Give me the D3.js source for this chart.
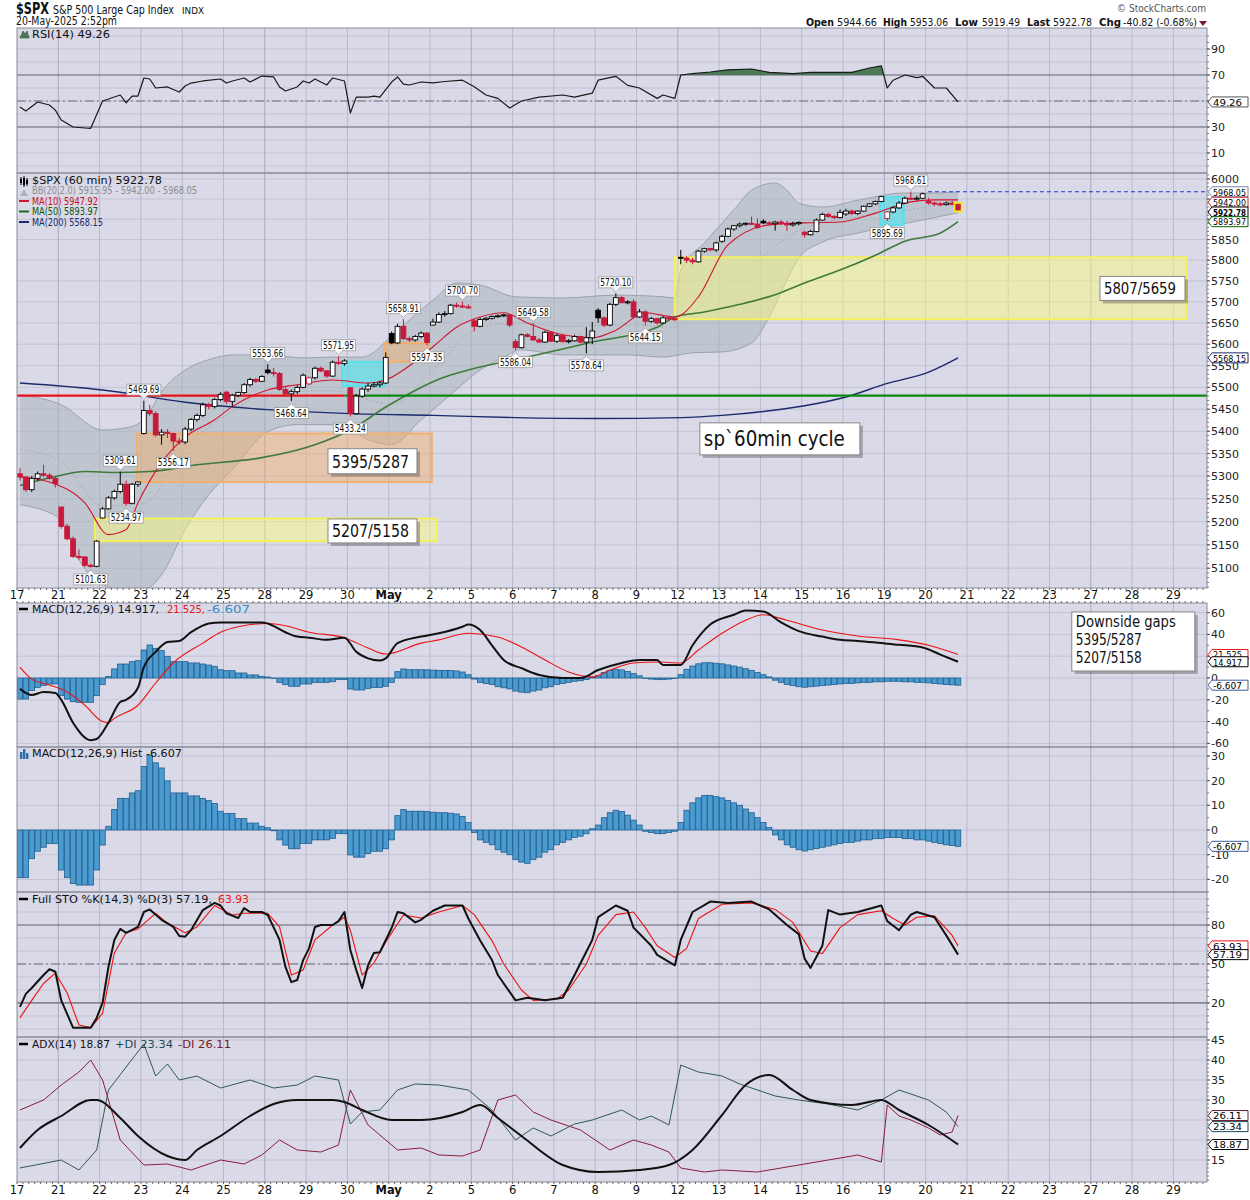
<!DOCTYPE html>
<html><head><meta charset="utf-8">
<script src="https://cdn.jsdelivr.net/npm/d3@7"></script>
<style>body{margin:0;background:#fff;} svg{display:block;} text{font-family:"DejaVu Sans",Verdana,sans-serif;}</style>
</head><body><svg id="c" width="1250" height="1200"></svg>
<script>
// ---------------- DATA ----------------
const dayLabels = ["17","21","22","23","24","25","28","29","30","May","2","5","6","7","8","9","12","13","14","15","16","19","20","21","22","23","27","28","29"];
// hourly candles [open, high, low, close]
const ohlc = [
// Apr 17
[5305,5318,5290,5298],[5298,5300,5265,5270],[5270,5300,5265,5295],[5295,5310,5290,5305],[5305,5325,5298,5302],[5302,5306,5292,5295],[5295,5298,5275,5283],
// Apr 21
[5232,5232,5185,5190],[5190,5195,5160,5163],[5163,5168,5122,5125],[5125,5140,5118,5124],[5124,5126,5103,5106],[5106,5110,5101.63,5104],[5104,5160,5102,5158],
// Apr 22
[5208,5232,5207,5228],[5228,5256,5226,5252],[5252,5270,5248,5266],[5266,5309.61,5262,5282],[5282,5290,5234.97,5240],[5240,5285,5238,5282],[5282,5288,5276,5287],
// Apr 23
[5395,5469.69,5393,5447],[5447,5460,5435,5440],[5440,5445,5388,5392],[5392,5405,5370,5398],[5398,5405,5385,5395],[5395,5397,5356.17,5378],[5378,5385,5370,5376],
// Apr 24
[5376,5410,5371,5405],[5405,5430,5400,5427],[5427,5440,5422,5436],[5436,5465,5432,5460],[5460,5465,5450,5456],[5456,5476,5452,5472],[5472,5489,5468,5484],
// Apr 25
[5489,5492,5462,5468],[5468,5485,5456,5482],[5482,5490,5478,5488],[5488,5510,5485,5506],[5506,5522,5502,5518],[5518,5522,5510,5514],[5514,5528,5512,5525],
// Apr 28
[5540,5553.66,5530,5534],[5534,5545,5525,5532],[5532,5535,5492,5495],[5495,5500,5480,5485],[5485,5495,5468.64,5490],[5490,5505,5485,5500],[5500,5532,5498,5528],
// Apr 29
[5508,5525,5505,5522],[5522,5548,5518,5544],[5544,5548,5535,5538],[5538,5540,5522,5526],[5526,5562,5524,5558],[5558,5571.95,5552,5555],[5555,5565,5550,5561],
// Apr 30
[5499,5500,5433.24,5440],[5440,5485,5438,5480],[5480,5500,5476,5496],[5496,5510,5490,5503],[5503,5512,5500,5506],[5506,5515,5500,5510],[5510,5581,5508,5569],
// May 1
[5625,5630,5600,5603],[5603,5648,5600,5642],[5642,5658.91,5610,5613],[5613,5618,5605,5610],[5610,5622,5606,5618],[5618,5630,5614,5626],[5626,5628,5597.35,5604],
// May 2
[5645,5660,5644,5652],[5652,5675,5650,5670],[5670,5678,5665,5672],[5672,5695,5670,5692],[5692,5698,5686,5690],[5690,5700.70,5685,5688],[5688,5694,5683,5686],
// May 5
[5655,5660,5630,5642],[5642,5662,5640,5658],[5658,5664,5655,5661],[5661,5668,5658,5665],[5665,5670,5662,5667],[5667,5672,5664,5669],[5669,5671,5640,5645],
// May 6
[5606,5612,5586.04,5592],[5592,5625,5590,5622],[5622,5626,5616,5618],[5618,5649.58,5608,5610],[5610,5614,5603,5605],[5605,5632,5603,5628],[5628,5630,5605,5607],
// May 7
[5607,5625,5603,5620],[5620,5624,5604,5606],[5606,5612,5602,5608],[5608,5622,5606,5618],[5618,5620,5602,5605],[5605,5640,5578.64,5615],[5615,5652,5600,5631],
// May 8
[5680,5685,5650,5662],[5662,5665,5640,5645],[5645,5698,5642,5694],[5694,5720.10,5690,5710],[5710,5714,5696,5698],[5698,5704,5694,5700],[5700,5706,5660,5664],
// May 9
[5664,5683,5662,5676],[5676,5680,5644.15,5654],[5654,5664,5650,5660],[5660,5662,5646,5650],[5650,5666,5648,5662],[5662,5665,5656,5660],[5660,5662,5654,5658],
// May 12
[5807,5825,5790,5805],[5805,5810,5793,5800],[5800,5806,5790,5796],[5796,5825,5794,5822],[5822,5830,5818,5828],[5828,5830,5822,5825],[5825,5845,5820,5842],
// May 13
[5846,5862,5842,5858],[5858,5880,5856,5876],[5876,5886,5872,5884],[5884,5892,5880,5888],[5888,5892,5884,5890],[5890,5906.63,5886,5888],[5888,5902,5876,5880],
// May 14
[5895,5900,5888,5891],[5891,5895,5885,5889],[5889,5896,5872,5893],[5893,5898,5886,5890],[5890,5896,5871,5886],[5886,5894,5882,5889],[5889,5895,5885,5892],
// May 15
[5868,5872,5855,5862],[5862,5874,5860,5870],[5870,5902,5868,5898],[5898,5916,5896,5912],[5912,5916,5904,5907],[5907,5910,5900,5904],[5904,5924,5902,5917],
// May 16
[5913,5926,5908,5920],[5920,5924,5910,5914],[5914,5922,5910,5920],[5920,5934,5918,5932],[5932,5940,5930,5938],[5938,5946,5935,5944],[5944,5958,5942,5956],
// May 19
[5902,5920,5895.69,5918],[5918,5932,5915,5928],[5928,5945,5925,5940],[5940,5956,5938,5952],[5952,5968.61,5948,5950],[5950,5958,5946,5952],[5952,5966,5950,5963],
// May 20
[5944.66,5953.06,5936,5940],[5940,5944,5933,5938],[5938,5942,5932,5936],[5936,5944,5934,5940],[5940,5946,5934,5937],[5937,5940,5919.49,5922.78]
];
// overlays: [bar, value]
const ma10 = [[0,5298],[5,5287],[11,5241],[15,5172],[18,5183],[20,5241],[24,5330],[28,5387],[33,5426],[36,5456],[42,5494],[47,5506],[53,5517],[59,5510],[62,5517],[65,5540],[70,5594],[74,5640],[78,5664],[82,5674],[86,5650],[92,5622],[97,5615],[101,5633],[106,5674],[111,5664],[115,5712],[120,5837],[127,5886],[133,5891],[139,5893],[145,5915],[151,5943],[155,5948],[159,5947.92]];
const ma50 = [[0,5279],[6,5299],[11,5310],[16,5308],[22,5310],[30,5325],[41,5341],[50,5370],[56,5403],[62,5455],[72,5524],[76,5540],[86,5570],[97,5605],[108,5640],[111,5664],[116,5676],[122,5694],[128,5717],[133,5745],[139,5776],[145,5812],[150,5846],[156,5866],[159,5893.97]];
const ma200 = [[0,5510],[14,5494],[28,5466],[42,5449],[56,5440],[70,5436],[84,5431],[98,5429],[112,5431],[119,5436],[126,5445],[133,5458],[140,5478],[147,5509],[154,5535],[159,5568.15]];
const bbUpper = [[0,5483],[7,5460],[14,5403],[18,5408],[21,5426],[24,5490],[28,5540],[32,5564],[36,5575],[42,5575],[48,5568],[53,5570],[58,5570],[64,5633],[70,5704],[74,5745],[78,5740],[84,5712],[92,5709],[101,5716],[109,5712],[111,5709],[112,5776],[116,5842],[121,5923],[124,5972],[128,5990],[130,5972],[132,5940],[136,5930],[142,5947],[150,5965],[156,5965],[159,5968.05]];
const bbLower = [[0,5237],[7,5205],[10,5118],[14,5065],[18,5054],[21,5054],[24,5086],[28,5183],[32,5259],[36,5314],[42,5399],[47,5415],[53,5415],[56,5403],[59,5381],[63,5370],[68,5426],[73,5483],[78,5540],[82,5570],[85,5587],[92,5575],[103,5575],[109,5570],[114,5580],[119,5582],[124,5603],[127,5664],[130,5752],[132,5805],[136,5844],[142,5866],[147,5881],[153,5898],[159,5915.95]];
const bbMid = [[0,5360],[7,5333],[14,5234],[21,5240],[28,5362],[36,5445],[42,5487],[53,5492],[63,5461],[70,5540],[78,5640],[85,5650],[92,5642],[103,5645],[111,5640],[116,5700],[124,5787],[132,5872],[142,5906],[150,5922],[159,5942.00]];
const gapZones = [
  {kind:"orange", b0:20.3, b1:70.3, hi:5395, lo:5287},
  {kind:"yellow", b0:13.2, b1:71.2, hi:5207, lo:5158},
  {kind:"yellow", b0:111.5, b1:198.3, hi:5807, lo:5659},
  {kind:"cyan", b0:55.1, b1:62.4, hi:5559, lo:5503},
  {kind:"orange", b0:62.2, b1:69.7, hi:5603, lo:5559},
  {kind:"cyan", b0:146.3, b1:150.3, hi:5955, lo:5886}
];
const levelRed = {b0:0, b1:55.5, v:5481};
const levelGreen = {b0:55.5, v:5481};
const levelBB = {b0:154.4, v:5968.05};
const callouts = [[12,5101.63,"below"],[18,5234.97,"below"],[17,5309.61,"above"],[26,5356.17,"below"],[21,5469.69,"above"],[42,5553.66,"above"],[46,5468.64,"below"],[54,5571.95,"above"],[56,5433.24,"below"],[69,5597.35,"below"],[65,5658.91,"above"],[75,5700.70,"above"],[87,5649.58,"above"],[84,5586.04,"below"],[96,5578.64,"below"],[101,5720.10,"above"],[106,5644.15,"below"],[151,5968.61,"above"],[147,5895.69,"below"]];
const rsi = [[0,45.4],[1,42.3],[3,49.2],[5,46.9],[6,43],[7,35.4],[9,30],[11,29.2],[12,29],[14,50],[17,54.6],[18,48.5],[19,53.8],[20,53.8],[21,67.7],[22,66.9],[23,60],[25,60.8],[27,56.9],[28,61.5],[29,63.8],[31,65.4],[34,66.9],[35,63.8],[36,65.4],[38,67.7],[39,64.6],[41,69.2],[43,68.5],[44,60.8],[45,57.7],[47,60.8],[48,65.4],[49,63.8],[50,66.9],[52,62.3],[53,67.7],[55,65.4],[56,40.8],[57,53],[59,53],[60,53.8],[61,53],[63,64.6],[64,68.5],[65,63],[66,62.3],[68,64.6],[70,64],[72,65],[75,66],[77,61],[79,54.6],[81,52],[83,44.6],[85,50],[88,53],[92,54.6],[94,53],[97,56],[98,66],[101,69],[103,62],[105,60],[108,52],[109,54.6],[111,52],[112,70],[114,71],[117,72.3],[120,74],[124,74.6],[127,72],[131,71],[134,72],[137,72],[141,72],[144,75.4],[146,77],[147,60],[148,66],[150,70],[152,68],[153,69],[155,60],[157,60],[159,49.26]];
const macd = [[0,-10],[2,-15.6],[4,-12.8],[6,-13.8],[7,-20],[9,-41],[12,-57],[13,-56],[15,-41],[17,-22],[18,-20],[20,-9],[21,10],[23,24],[25,33],[27,34],[29,42],[32,50],[34,51],[38,51],[41,51],[42,50],[45,42],[47,38],[49,37],[52,35],[55,37],[57,24],[59,18],[61,16],[62,18],[64,32],[68,38],[71,41],[75,47],[76,49],[78,44],[80,30],[82,16.5],[85,9],[88,2.8],[92,0],[95,0],[98,7.3],[102,13.8],[105,16.5],[108,16.5],[109,11.9],[112,11.9],[114,30],[117,49],[121,58],[123,62],[126,61],[129,51],[132,43],[136,38],[139,35],[142,34],[146,32],[149,30.5],[153,28],[156,21.5],[159,14.917]];
const macdSignal = [[0,10],[2,-1],[5,-6.4],[8,-12.8],[11,-25],[14,-40],[15,-41],[16,-37],[20,-25],[23,-4.6],[26,14],[31,32],[34,42],[37,47],[42,50],[45,48],[49,42],[55,37],[59,27.5],[62,22],[68,32],[71,35],[76,41],[81,37.6],[85,28.4],[89,16.5],[93,5.5],[97,1],[100,7.3],[104,13.8],[108,14.7],[112,13.8],[115,25.7],[119,41],[123,53],[126,58],[130,53],[136,44],[142,38.5],[149,35],[154,30],[159,21.525]];
const macdHist = [-19.3,-19.3,-11.6,-8.6,-7,-5.5,-5.5,-16.2,-19.3,-21.7,-22.3,-22.3,-22.3,-16.2,-6.1,1.5,8.3,12.8,12.8,15,15.9,25.7,30.3,27.2,25.1,19.9,15,15,15,13.8,13.8,12.8,11.9,10.7,7.6,6.7,6.7,4.6,4.6,2.8,2.8,1.5,0.9,-0.3,-4,-6.1,-7.6,-7.6,-5.5,-5.5,-4,-4,-4,-3.4,-1.5,-1.5,-10.1,-11,-11,-9.5,-8.6,-8.6,-7.6,-4,5.8,8.3,7.6,7.6,
7.6,7.5,7.2,7,7,6.8,6.5,5.5,3,-1,-4,-5,-6,-8,-9,-10,-12,-13,-13.5,-12,-11,-9,-8,-6,-5,-4,-3,-2.5,-1.5,0.5,2,5,7,8,7.5,6,4,2,-0.5,-1,-1.5,-1.5,-1,-0.5,3,8,11,13,14,14,13.5,13,12,11,10,8.5,7,5,3,1,-2,-4,-6,-7,-8,-8.5,-8,-7.5,-7,-6.5,-6,-5.5,-5,-5,-4.5,-4,-4,-3.5,-3.5,-3,-3,-3,-3.5,-3.5,-4,-4,-4.5,-5,-5.5,-6,-6.3,-6.607];
const stoK = [[0,17],[1,27],[2,31.5],[4,41.5],[5,46],[6,44],[7,22],[9,1],[12,1],[13,8.5],[14,20],[15,47.7],[16,68.5],[17,77],[18,74],[20,78.5],[21,90],[22,92],[24,84],[26,78.5],[27,71.5],[28,71],[29,76],[31,91.5],[33,97],[34,95],[35,89],[37,85.4],[38,93],[39,90],[41,90],[42,87.7],[44,68.5],[45,47.7],[46,36],[47,37.7],[48,53],[49,62],[50,78.5],[51,80],[53,80],[54,83],[55,90],[56,60.8],[57,45.4],[58,31.5],[59,49],[60,58.5],[61,59],[63,77.7],[64,90],[65,89],[67,82],[68,84],[70,91],[72,95],[75,95],[76,85],[78,68],[80,53],[81,41.5],[84,22],[86,24],[89,22],[92,24],[94,41.5],[97,68.5],[98,86],[101,95],[103,91],[104,78],[107,64],[108,57],[111,49],[112,68.5],[114,90],[117,98],[120,97],[124,98],[127,92],[130,80],[132,73],[133,54],[134,47],[136,64],[137,91.5],[139,88],[142,90],[146,95],[147,83],[149,76],[151,88],[152,90],[155,86],[157,72],[159,57.19]];
const stoD = [[0,8.5],[2,22],[4,35],[6,43],[8,27.7],[10,3],[12,1],[14,12],[16,58.5],[18,74],[20,77],[23,89],[25,81.5],[28,74],[30,78.5],[33,95],[36,87.7],[38,89],[42,89],[44,78.5],[46,41.5],[48,45.4],[50,68.5],[53,80],[55,86],[56,76],[58,41.5],[60,50.8],[62,67],[65,87.7],[68,85.4],[71,90],[75,95],[77,88],[80,68],[82,50],[85,30],[87,22],[91,23],[93,30],[96,50],[98,72],[101,88],[104,90],[106,78],[108,64],[111,55],[113,62],[115,85],[119,96],[124,97],[128,92],[131,82],[134,60],[136,58],[139,78],[142,88],[146,91],[148,85],[150,80],[152,86],[155,87],[158,72],[159,63.93]];
const adx = [[0,18],[3,22.5],[7,26],[12,30],[13,30],[17,25.5],[20,21],[25,16],[28,15],[30,17.5],[34,21],[39,26],[43,29],[47,30],[53,30],[55,29.5],[58,27.5],[63,25],[68,25],[75,27],[78,28.75],[81,25.5],[85,21],[92,13.75],[98,12],[105,12.5],[110,13.75],[114,17.5],[119,26.25],[123,33.75],[127,36.25],[131,32.5],[134,30],[141,28.75],[146,30],[149,27.5],[154,23.75],[159,18.87]];
const plusDI = [[0,13],[7,15],[10,12.5],[13,17.5],[14,25],[15,32.5],[21,44],[23,36],[25,39],[27,35],[30,36],[34,33],[39,35],[43,33],[47,33.75],[50,36],[54,35],[56,24],[58,27],[61,27.5],[64,32.5],[67,34],[71,33.75],[76,32.5],[80,27.5],[84,20],[87,23],[90,21],[94,24],[97,25],[102,27.5],[105,25],[107,26],[110,23.75],[112,38.75],[115,37],[119,36],[122,34],[125,32.5],[128,31],[132,30],[137,29],[142,27.5],[146,30],[149,32.5],[152,31],[154,30],[157,27],[159,23.34]];
const minusDI = [[0,27.5],[4,30],[7,33.75],[10,37],[12,40],[14,35],[17,20],[21,13.75],[25,14],[29,12.5],[34,15],[38,14],[41,16.25],[44,20],[47,17.5],[51,17],[54,18.75],[56,32.5],[59,23.75],[64,17.5],[68,18],[71,16.25],[75,16],[78,17.5],[81,30],[84,31.25],[87,27],[90,25],[95,22.5],[100,17.5],[104,20],[107,18.75],[110,17],[112,13],[116,12],[119,12.5],[125,12],[129,13],[132,13.75],[137,15],[142,16.25],[146,14.5],[147,28.75],[149,26],[151,25],[154,23],[156,21.25],[158,22],[159,26.11]];
const priceTicks = d3.range(5100, 6001, 50);
const rsiTicks = [90,70,50,30,10];
const macdTicks = [60,40,20,0,-20,-40,-60];
const histTicks = [30,20,10,0,-10,-20];
const stoTicks = [80,50,20];
const adxTicks = [45,40,35,30,25,20,15];

// ---------------- LAYOUT ----------------
const L = 17, R = 1207, BARW = 41.3/7;
const x = d3.scaleLinear().domain([0, (R-L)/BARW]).range([L, R]);
const bx = b => x(b + 0.5);
const P = {rsi:[28,173], price:[173,588], macd:[603,747], hist:[747,892], sto:[892,1037], adx:[1037,1182]};
const yRsi = d3.scaleLinear().domain([-5.4,106.15]).range([173,28]);
const yP = d3.scaleLog().domain([5058,6015]).range([588,173]);
const yMacd = d3.scaleLinear().domain([-63.3,68.8]).range([747,603]);
const yHist = d3.scaleLinear().domain([-25.1,33.6]).range([892,747]);
const ySto = d3.scaleLinear().domain([-6.2,105.4]).range([1037,892]);
const yAdx = d3.scaleLinear().domain([9.5,45.75]).range([1182,1037]);

const svg = d3.select("#c");
const defs = svg.append("defs");
Object.entries(P).forEach(([k,[t,b]]) => {
  defs.append("clipPath").attr("id","clip-"+k).append("rect").attr("x",L).attr("y",t).attr("width",R-L).attr("height",b-t);
});
const BG = "#d9d9e7", GRID = "#c3c3d4", VGRID = "#b9b9cb", AX = "#222";
const ARIAL = "'Liberation Sans', Arial, sans-serif";

Object.values(P).forEach(([t,b]) => svg.append("rect").attr("x",L).attr("y",t).attr("width",R-L).attr("height",b-t).attr("fill",BG));

function hgrid(ys, vals, color, dash, w){
  vals.forEach(v => svg.append("line").attr("x1",L).attr("x2",R).attr("y1",ys(v)).attr("y2",ys(v))
    .attr("stroke",color).attr("stroke-width",w||1).attr("stroke-dasharray",dash||null));
}
hgrid(yRsi, d3.range(0,101,10), GRID);
hgrid(yP, priceTicks, GRID);
hgrid(yMacd, [60,40,20,0,-20,-40,-60], GRID);
hgrid(yHist, [30,20,10,0,-10,-20], GRID);
hgrid(ySto, d3.range(0,101,10), GRID);
hgrid(yAdx, [45,40,35,30,25,20,15], GRID);
Object.values(P).forEach(([t,b]) => {
  dayLabels.forEach((d,i) => {
    const xx = x(i*7);
    if (xx <= L+0.5 || xx >= R) return;
    const monday = [1,6,11,16,21,26].includes(i);
    svg.append("line").attr("x1",xx).attr("x2",xx).attr("y1",t).attr("y2",b).attr("stroke", monday ? "#a9a9bd" : VGRID).attr("stroke-width",1);
  });
});
hgrid(yRsi, [70,30], "#6d6d78", null, 1.2);
hgrid(yRsi, [50], "#6d6d78", "9,3,2,3", 1);
hgrid(ySto, [80,20], "#6d6d78", null, 1.2);
hgrid(ySto, [50], "#6d6d78", "9,3,2,3", 1);

const line = (ys, curve) => d3.line().x(d=>bx(d[0])).y(d=>ys(d[1])).curve(curve || d3.curveLinear);
function path(panel, data, gen, stroke, w, extra){
  const p = svg.append("path").attr("clip-path","url(#clip-"+panel+")").datum(data).attr("d",gen)
    .attr("fill","none").attr("stroke",stroke).attr("stroke-width",w).attr("stroke-linejoin","round");
  if (extra) extra(p);
  return p;
}

// RSI
defs.append("clipPath").attr("id","clip-rsi70").append("rect").attr("x",L).attr("y",28).attr("width",R-L).attr("height",yRsi(70)-28);
svg.append("path").attr("clip-path","url(#clip-rsi70)").datum(rsi)
  .attr("d", d3.area().x(d=>bx(d[0])).y0(yRsi(70)).y1(d=>yRsi(d[1]))).attr("fill","#4c7a56");
path("rsi", rsi, line(yRsi), "#1a1a1a", 1.2);

// PRICE
{
  const up = d3.line().x(d=>bx(d[0])).y(d=>yP(d[1])).curve(d3.curveMonotoneX)(bbUpper);
  const lo = d3.line().x(d=>bx(d[0])).y(d=>yP(d[1])).curve(d3.curveMonotoneX)(bbLower.slice().reverse());
  svg.append("path").attr("clip-path","url(#clip-price)").attr("d", up + "L" + lo.slice(1) + "Z")
    .attr("fill","rgba(170,182,190,0.55)").attr("stroke","none");
}
path("price", bbUpper, line(yP, d3.curveMonotoneX), "#9aa3ad", 1);
path("price", bbLower, line(yP, d3.curveMonotoneX), "#9aa3ad", 1);
path("price", bbMid, line(yP, d3.curveMonotoneX), "#a7adb6", 1, p=>p.attr("stroke-dasharray","2,2"));

const zoneStyle = {
  orange: {fill:"rgba(244,172,104,0.45)", stroke:"#f1b06c"},
  yellow: {fill:"rgba(255,255,120,0.45)", stroke:"#f4ef5c"},
  cyan: {fill:"rgba(80,232,242,0.6)", stroke:"#59e0ea"}
};
gapZones.forEach(z => {
  const s = zoneStyle[z.kind];
  svg.append("rect").attr("clip-path","url(#clip-price)")
    .attr("x", x(z.b0)).attr("width", x(z.b1)-x(z.b0))
    .attr("y", yP(z.hi)).attr("height", yP(z.lo)-yP(z.hi))
    .attr("fill", s.fill).attr("stroke", s.stroke).attr("stroke-width", 2);
});
path("price", ma200, line(yP, d3.curveMonotoneX), "#1b2a6b", 1.4);
path("price", ma50, line(yP, d3.curveMonotoneX), "#3f7a3a", 1.6);
path("price", ma10, line(yP, d3.curveMonotoneX), "#d2142f", 1.1);
svg.append("line").attr("x1",x(levelRed.b0)).attr("x2",x(levelRed.b1)).attr("y1",yP(levelRed.v)).attr("y2",yP(levelRed.v)).attr("stroke","#e8101a").attr("stroke-width",2.2);
svg.append("line").attr("x1",x(levelGreen.b0)).attr("x2",R).attr("y1",yP(levelGreen.v)).attr("y2",yP(levelGreen.v)).attr("stroke","#0a8a12").attr("stroke-width",2.2);
svg.append("line").attr("x1",x(levelBB.b0)).attr("x2",R).attr("y1",yP(levelBB.v)).attr("y2",yP(levelBB.v)).attr("stroke","#2233cc").attr("stroke-width",1.2).attr("stroke-dasharray","4,3");

const RED = "#c8193c";
const cg = svg.append("g").attr("clip-path","url(#clip-price)");
ohlc.forEach((d,i) => {
  const [o,h,l,c] = d;
  const prev = i > 0 ? ohlc[i-1][3] : o;
  const col = c < prev ? RED : "#000";
  const filled = c < o;
  const cx = bx(i);
  cg.append("line").attr("x1",cx).attr("x2",cx).attr("y1",yP(h)).attr("y2",yP(l)).attr("stroke",col).attr("stroke-width",1);
  const top = yP(Math.max(o,c)), bot = yP(Math.min(o,c));
  cg.append("rect").attr("x",cx-2.4).attr("width",4.8).attr("y",top).attr("height",Math.max(1,bot-top))
    .attr("fill", filled ? col : "#fff").attr("stroke",col).attr("stroke-width",0.9);
});
{
  const i = ohlc.length-1, [o,h,l,c] = ohlc[i];
  svg.append("rect").attr("x",bx(i)-3.6).attr("width",7.2).attr("y",yP(Math.max(o,c))-1.5).attr("height",yP(Math.min(o,c))-yP(Math.max(o,c))+3)
    .attr("fill","none").attr("stroke","#f5f000").attr("stroke-width",1.6);
}

callouts.forEach(([b,v,side]) => {
  const cx = bx(b);
  const py = yP(v);
  const t = v.toFixed(2);
  const w = 34, h = 11;
  const cy = side === "above" ? py - 11 : py + 12;
  const gg = svg.append("g");
  const tipY = side === "above" ? cy + h/2 + 4 : cy - h/2 - 4;
  const baseY = side === "above" ? cy + h/2 : cy - h/2;
  gg.append("path").attr("d",`M${cx-4},${baseY}L${cx},${tipY}L${cx+4},${baseY}Z`).attr("fill","#fff").attr("stroke","#999").attr("stroke-width",0.8);
  gg.append("rect").attr("x",cx-w/2).attr("y",cy-h/2).attr("width",w).attr("height",h).attr("fill","#fff").attr("stroke","#9a9a9a").attr("stroke-width",0.8);
  gg.append("rect").attr("x",cx-3.4).attr("y",baseY-0.8).attr("width",6.8).attr("height",1.6).attr("fill","#fff");
  gg.append("text").attr("x",cx).attr("y",cy+3.6).attr("text-anchor","middle").attr("font-family",ARIAL).attr("font-size",10)
    .attr("textLength",31).attr("lengthAdjust","spacingAndGlyphs").attr("fill","#111").text(t);
});

function noteBox(cx, cy, w, h, lines, fs, lh, tls){
  const gg = svg.append("g");
  gg.append("rect").attr("x",cx-w/2+3).attr("y",cy-h/2+3).attr("width",w).attr("height",h).attr("fill","rgba(60,60,60,0.35)");
  gg.append("rect").attr("x",cx-w/2).attr("y",cy-h/2).attr("width",w).attr("height",h).attr("fill","#fff").attr("stroke","#888").attr("stroke-width",1);
  lines.forEach((t,i) => gg.append("text").attr("x",cx-w/2+4).attr("y",cy-h/2 + (lines.length>1 ? 15 + i*lh : h/2 + fs*0.36))
    .attr("font-family",ARIAL).attr("font-size",fs).attr("fill","#111")
    .attr("textLength",tls[i]).attr("lengthAdjust","spacingAndGlyphs").text(t));
}
noteBox(bx(59.75), yP(5333), 89, 25, ["5395/5287"], 18, 0, [77]);
noteBox(bx(59.75), yP(5180), 89, 24, ["5207/5158"], 18, 0, [77]);
noteBox(bx(190.26), yP(5732), 85, 24, ["5807/5659"], 16, 0, [72]);
noteBox(bx(128.8), yP(5383), 160, 32, ["sp`60min cycle"], 21, 0, [141]);
noteBox(bx(188.7), yMacd(33.5), 123, 59, ["Downside gaps","5395/5287","5207/5158"], 16, 18, [100,66,66]);

const hw = BARW*0.92;
function histBars(ys, panel){
  const gg = svg.append("g").attr("clip-path","url(#clip-"+panel+")");
  macdHist.forEach((v,i) => {
    const y0 = ys(0), y1 = ys(v);
    gg.append("rect").attr("x",bx(i)-hw/2).attr("width",hw).attr("y",Math.min(y0,y1)).attr("height",Math.max(0.5,Math.abs(y1-y0)))
      .attr("fill","#4b9bd0").attr("stroke","#1f5f8f").attr("stroke-width",0.8);
  });
}
histBars(yMacd, "macd");
path("macd", macdSignal, line(yMacd, d3.curveMonotoneX), "#ee1111", 1.1);
path("macd", macd, line(yMacd, d3.curveMonotoneX), "#111", 2);
histBars(yHist, "hist");

path("sto", stoD, line(ySto), "#ee1111", 1.1);
path("sto", stoK, line(ySto), "#111", 2);

path("adx", minusDI, line(yAdx), "#8a1c3c", 1);
path("adx", plusDI, line(yAdx), "#2f5a4c", 1);
path("adx", adx, line(yAdx, d3.curveMonotoneX), "#111", 2);

Object.values(P).forEach(([t,b]) => svg.append("rect").attr("x",L).attr("y",t).attr("width",R-L).attr("height",b-t).attr("fill","none").attr("stroke","#8a8a98").attr("stroke-width",1));

// value tags (computed positions first, so tick labels hidden beneath them can be skipped)
const tags = [
  [yRsi(49.26), "49.26", "#555"],
  [yP(5968.05), "5968.05", "#7788aa"],
  [yP(5942.00), "5942.00", "#cc2222"],
  [yP(5922.78)+2, "5922.78", "#000", true],
  [yP(5893.97), "5893.97", "#006600"],
  [yP(5568.15), "5568.15", "#1b2a6b"],
  [yMacd(21.525), "21.525", "#ee1111"],
  [yMacd(14.917), "14.917", "#000"],
  [yMacd(-6.607), "-6.607", "#3a5fa0"],
  [yHist(-6.607), "-6.607", "#3a5fa0"],
  [ySto(63.93), "63.93", "#ee1111"],
  [ySto(57.19), "57.19", "#000"],
  [yAdx(26.11), "26.11", "#6b1a2a"],
  [yAdx(23.34), "23.34", "#1a4a5a"],
  [yAdx(18.87), "18.87", "#000"]
];
function rAxis(ys, vals, top, bot){
  vals.forEach(v => {
    const yy = ys(v);
    if (yy < top-1 || yy > bot+1) return;
    svg.append("line").attr("x1",R).attr("x2",R+3).attr("y1",yy).attr("y2",yy).attr("stroke","#555");
    if (tags.some(t => Math.abs(t[0]-yy) < 5.5)) return;
    svg.append("text").attr("x",R+4).attr("y",yy+4).attr("font-family",ARIAL).attr("font-size",11).attr("fill",AX).text(v);
  });
}
function minor(ys, vals){ vals.forEach(v => svg.append("line").attr("x1",R).attr("x2",R+2).attr("y1",ys(v)).attr("y2",ys(v)).attr("stroke","#777")); }
minor(yRsi, d3.range(0,101,5)); minor(yP, d3.range(5060,6011,10)); minor(yMacd, d3.range(-60,61,10));
minor(yHist, d3.range(-25,31,5)); minor(ySto, d3.range(0,101,5)); minor(yAdx, d3.range(10,46,1));
rAxis(yRsi, rsiTicks, 28, 173);
rAxis(yP, priceTicks, 173, 588);
rAxis(yMacd, macdTicks, 603, 747);
rAxis(yHist, histTicks, 747, 892);
rAxis(ySto, stoTicks, 892, 1037);
rAxis(yAdx, adxTicks, 1037, 1182);

tags.forEach(([yy, t, color, bold]) => {
  const g2 = svg.append("g");
  g2.append("path").attr("d",`M${R+1},${yy}L${R+5},${yy-5}L${R+41},${yy-5}L${R+41},${yy+5}L${R+5},${yy+5}Z`)
    .attr("fill","#fff").attr("stroke",color).attr("stroke-width",1);
  g2.append("text").attr("x",R+6).attr("y",yy+3.8).attr("font-family",ARIAL).attr("font-size",9.5)
    .attr("font-weight",bold?"bold":"normal").attr("textLength",t.length>6?33:29).attr("lengthAdjust","spacingAndGlyphs").attr("fill","#000").text(t);
});

function dateAxis(yTop, yText){
  for (let b = 0; b <= 201; b++) {
    svg.append("line").attr("x1",x(b)).attr("x2",x(b)).attr("y1",yTop).attr("y2",yTop+2).attr("stroke","#666");
  }
  dayLabels.forEach((d,i) => {
    svg.append("text").attr("x",x(i*7)).attr("y",yText).attr("text-anchor","middle").attr("font-family",ARIAL)
      .attr("font-size",11.5).attr("font-weight", d==="May" ? "bold":"normal").attr("fill","#111").text(d);
  });
}
dateAxis(588, 599);
for (let b = 0; b <= 201; b++) svg.append("line").attr("x1",x(b)).attr("x2",x(b)).attr("y1",601).attr("y2",603).attr("stroke","#666");
dateAxis(1182, 1194);

function txt(xx, yy, s, opts){
  const t = svg.append("text").attr("x",xx).attr("y",yy).attr("font-size",opts.fs||11).attr("fill",opts.fill||"#111").text(s);
  if (opts.tl) t.attr("textLength",opts.tl).attr("lengthAdjust","spacingAndGlyphs");
  if (opts.bold) t.attr("font-weight","bold");
  if (opts.family) t.attr("font-family",opts.family);
  return t;
}
txt(16, 14, "$SPX", {fs:16, bold:true, tl:33, family:ARIAL});
txt(53, 14, "S&P 500 Large Cap Index", {fs:11.5, tl:121, family:ARIAL});
txt(182, 14, "INDX", {fs:9.5, tl:22, family:ARIAL});
txt(16, 25, "20-May-2025 2:52pm", {fs:11.5, tl:101, family:ARIAL});
txt(1117, 12, "\u00A9 StockCharts.com", {fs:10.5, tl:89, family:ARIAL, fill:"#555"});
[["Open",806,28,true],["5944.66",837,40],["High",883,24,true],["5953.06",910,38],["Low",955,23,true],["5919.49",982,38],["Last",1027,23,true],["5922.78",1053,39],["Chg",1099,22,true],["-40.82 (-0.68%)",1123,74]]
  .forEach(([s,xx,tl,b]) => txt(xx, 26, s, {fs:11, tl:tl, bold:!!b, family:ARIAL}));
svg.append("path").attr("d","M1199,21L1207,21L1203,26Z").attr("fill","#7a1a2a");

svg.append("path").attr("d","M20,38L23,31L25,34L27,31L29,38Z").attr("fill","#4c7a56").attr("stroke","#2e4f36").attr("stroke-width",0.6);
txt(32, 38, "RSI(14) 49.26", {fs:11, tl:78});
[[21,178,184],[24,177,186],[27,179,185]].forEach(([xx,a,b]) => {
  svg.append("line").attr("x1",xx).attr("x2",xx).attr("y1",a-1).attr("y2",b+1).attr("stroke","#000");
  svg.append("rect").attr("x",xx-1).attr("y",a+1).attr("width",2).attr("height",b-a-2).attr("fill","#000");
});
txt(32, 184, "$SPX (60 min) 5922.78", {fs:11, tl:130});
svg.append("path").attr("d","M20,196L24,189L28,196Z").attr("fill","#aab2bb");
txt(32, 194, "BB(20,2.0) 5915.95 - 5942.00 - 5968.05", {fs:10, tl:165, fill:"#8d8d8d"});
svg.append("line").attr("x1",19).attr("x2",29).attr("y1",201).attr("y2",201).attr("stroke","#d2142f").attr("stroke-width",2);
txt(32, 204.5, "MA(10) 5947.92", {fs:10, tl:66, fill:"#cc1122"});
svg.append("line").attr("x1",19).attr("x2",29).attr("y1",211.5).attr("y2",211.5).attr("stroke","#1f6a1f").attr("stroke-width",2);
txt(32, 215, "MA(50) 5893.97", {fs:10, tl:66, fill:"#115511"});
svg.append("line").attr("x1",19).attr("x2",29).attr("y1",222).attr("y2",222).attr("stroke","#1b2a6b").attr("stroke-width",2);
txt(32, 225.5, "MA(200) 5568.15", {fs:10, tl:71, fill:"#1b2a6b"});
svg.append("line").attr("x1",19).attr("x2",28).attr("y1",609).attr("y2",609).attr("stroke","#000").attr("stroke-width",2.5);
txt(32, 613, "MACD(12,26,9) 14.917,", {fs:11, tl:127});
txt(167, 613, "21.525,", {fs:11, tl:38, fill:"#ee1111"});
txt(207, 613, "-6.607", {fs:11, tl:43, fill:"#3a8fc4"});
[[20,752,759],[23,749,759],[26,753,759]].forEach(([xx,a,b]) => svg.append("rect").attr("x",xx).attr("y",a).attr("width",2.4).attr("height",b-a).attr("fill","#2f6fa8"));
txt(32, 757, "MACD(12,26,9) Hist -6.607", {fs:11, tl:150});
svg.append("line").attr("x1",19).attr("x2",28).attr("y1",899).attr("y2",899).attr("stroke","#000").attr("stroke-width",2.5);
txt(32, 903, "Full STO %K(14,3) %D(3) 57.19,", {fs:11, tl:180});
txt(218, 903, "63.93", {fs:11, tl:31, fill:"#ee1111"});
svg.append("line").attr("x1",19).attr("x2",28).attr("y1",1044).attr("y2",1044).attr("stroke","#000").attr("stroke-width",2.5);
txt(32, 1048, "ADX(14) 18.87", {fs:11, tl:78});
txt(115, 1048, "+DI 23.34", {fs:11, tl:58, fill:"#1f4a5a"});
txt(178, 1048, "-DI 26.11", {fs:11, tl:53, fill:"#7a1a2a"});
</script></body></html>
